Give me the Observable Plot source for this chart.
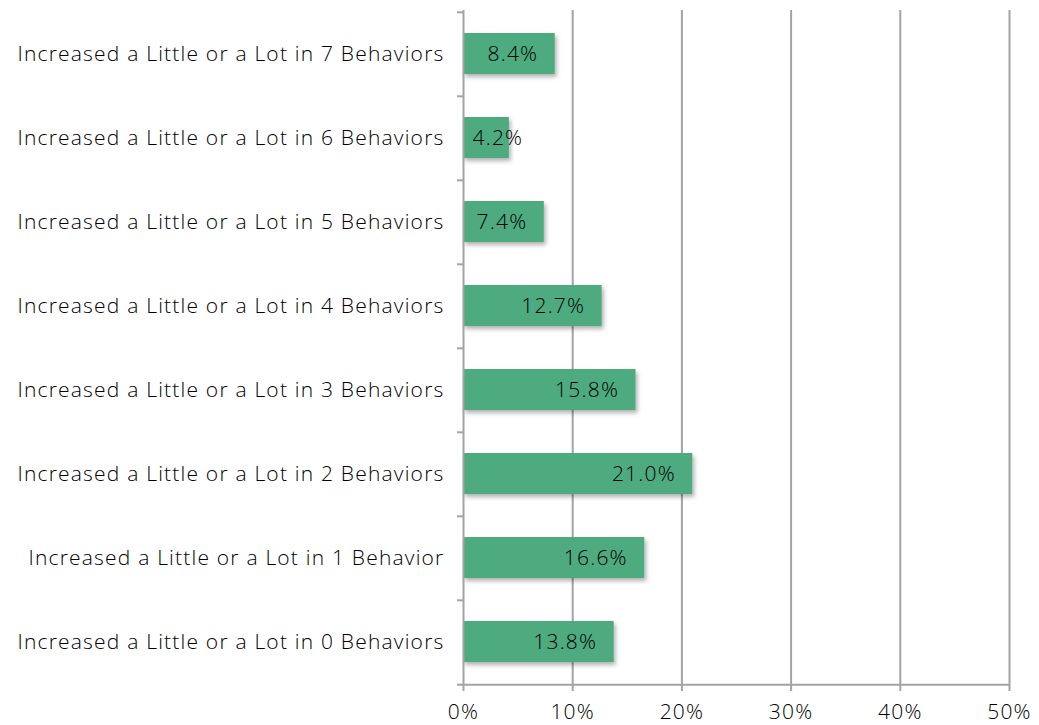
<!DOCTYPE html>
<html>
<head>
<meta charset="utf-8">
<script src="https://cdn.jsdelivr.net/npm/d3@7"></script>
<script src="https://cdn.jsdelivr.net/npm/@observablehq/plot@0.6"></script>
<style>
  html, body { margin: 0; padding: 0; background: #fff; }
  #chart svg { display: block; }
  #chart svg text { font-weight: 300; letter-spacing: 1.2px; }
</style>
</head>
<body>
<div id="chart"></div>
<script>
// Share of respondents by number of behaviors that increased
const categories = [
  "Increased a Little or a Lot in 7 Behaviors",
  "Increased a Little or a Lot in 6 Behaviors",
  "Increased a Little or a Lot in 5 Behaviors",
  "Increased a Little or a Lot in 4 Behaviors",
  "Increased a Little or a Lot in 3 Behaviors",
  "Increased a Little or a Lot in 2 Behaviors",
  "Increased a Little or a Lot in 1 Behavior",
  "Increased a Little or a Lot in 0 Behaviors"
];
const shares = [8.4, 4.2, 7.4, 12.7, 15.8, 21.0, 16.6, 13.8];
const xTicks = [0, 10, 20, 30, 40, 50];

const rows = categories.map((label, i) => ({label, value: shares[i]}));

const W = 1039, H = 725;
const margin = {top: 10, right: 30, bottom: 40, left: 463};
const band = (H - margin.top - margin.bottom) / categories.length;
const grid = "#a3a3a3";
const ink = "#000";
const font = "'Open Sans', sans-serif";

// values too small to hold their label are labelled from the axis instead
const fits = d => d.value >= 6;

const chart = Plot.plot({
  width: W,
  height: H,
  marginTop: margin.top,
  marginRight: margin.right,
  marginBottom: margin.bottom,
  marginLeft: margin.left,
  style: {fontFamily: font, background: "#fff"},
  x: {domain: [0, 50], axis: null},
  y: {domain: categories, padding: 0, axis: null},
  marks: [
    // vertical gridlines
    Plot.ruleX(xTicks.filter(t => t > 0), {stroke: grid, strokeWidth: 2}),
    // bars
    Plot.barX(rows, {
      x: "value", y: "label", fill: "#4dab7f",
      insetTop: 21, insetBottom: 22, className: "bars"
    }),
    // value labels
    Plot.text(rows.filter(fits), {
      x: "value", y: "label", text: d => d.value.toFixed(1) + "%",
      textAnchor: "end", dx: -17, fontSize: 21, fill: ink
    }),
    Plot.text(rows.filter(d => !fits(d)), {
      x: 0, y: "label", text: d => d.value.toFixed(1) + "%",
      textAnchor: "start", dx: 9, fontSize: 21, fill: ink
    }),
    // category axis line and band separators
    Plot.ruleX([0], {stroke: grid, strokeWidth: 2}),
    Plot.ruleY(categories, {
      y: d => d, x1: 0, x2: 0, insetLeft: -6,
      dy: -band / 2, stroke: grid, strokeWidth: 2
    }),
    Plot.ruleY(categories.slice(-1), {
      y: d => d, x1: 0, x2: 0, insetLeft: -6,
      dy: band / 2, stroke: grid, strokeWidth: 2
    }),
    // category labels
    Plot.axisY({
      tickSize: 0, tickPadding: 19, fontSize: 21, label: null,
      fill: ink
    }),
    // percentage axis
    Plot.ruleY([0], {
      y: () => categories[categories.length - 1], x1: 0, x2: 50,
      dy: band / 2, stroke: grid, strokeWidth: 2
    }),
    Plot.axisX({
      ticks: xTicks, tickSize: 6, tickPadding: 13, fontSize: 21,
      stroke: grid, strokeWidth: 2, fill: ink,
      tickFormat: d => d + "%", label: null
    })
  ]
});

// soft drop shadow under the bars
const svg = d3.select(chart);
svg.insert("defs", ":first-child").html(
  '<filter id="barShadow" x="-10%" y="-30%" width="130%" height="180%">' +
  '<feDropShadow dx="2" dy="3" stdDeviation="2" flood-color="#000" flood-opacity="0.3"/>' +
  '</filter>'
);
svg.selectAll("g.bars").attr("filter", "url(#barShadow)");

document.getElementById("chart").appendChild(chart);
</script>
</body>
</html>
